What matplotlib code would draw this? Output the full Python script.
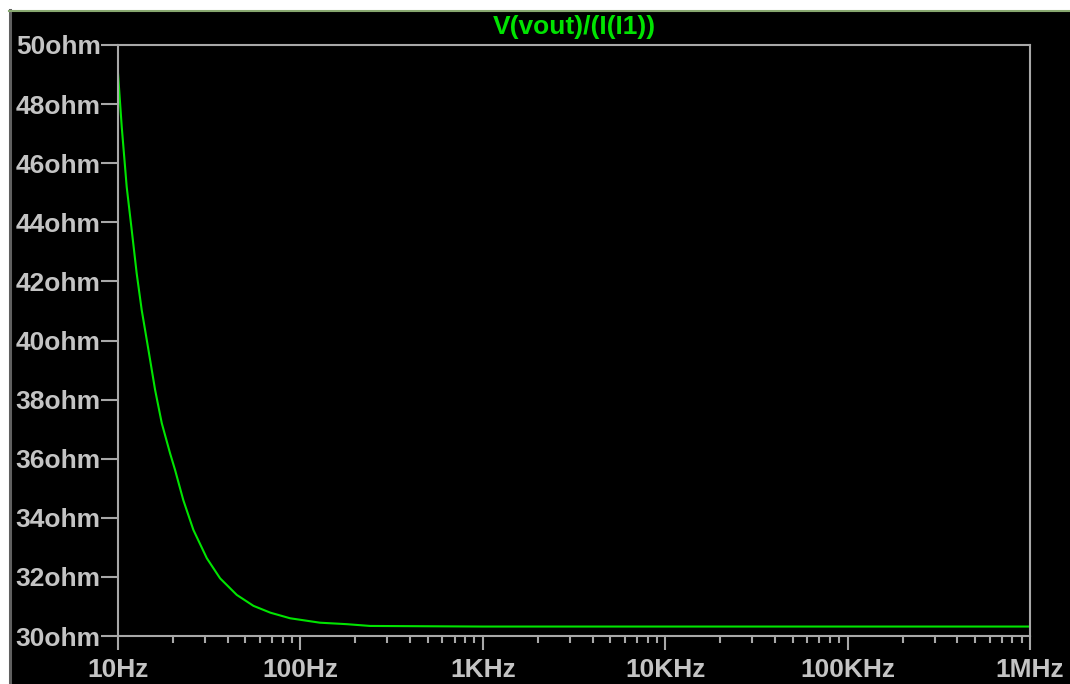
import matplotlib
matplotlib.use("Agg")
import matplotlib.pyplot as plt
from matplotlib.lines import Line2D
from matplotlib.patches import Rectangle
from matplotlib.ticker import FixedLocator, LogLocator, NullFormatter

# values
freq_hz = [10, 10.48, 11.16, 11.89, 12.66, 13.49, 14.67, 15.97, 17.38, 19.3,
           20.55, 22.8, 25.9, 30.7, 36.3, 44.8, 55.3, 68.4, 87.8, 128, 180,
           241, 1000, 1e6]
z_ohm = [49.05, 47.24, 45.20, 43.74, 42.27, 41.03, 39.7, 38.33, 37.20, 36.18,
         35.62, 34.60, 33.59, 32.63, 31.95, 31.39, 31.02, 30.79, 30.60, 30.45,
         30.40, 30.34, 30.32, 30.32]

x_ticks = [10, 100, 1e3, 1e4, 1e5, 1e6]
x_labels = ["10Hz", "100Hz", "1KHz", "10KHz", "100KHz", "1MHz"]
y_ticks = list(range(30, 51, 2))
y_labels = [f"{v}ohm" for v in y_ticks]
title = "V(vout)/(I(I1))"

W, H = 1070, 684
fig = plt.figure(figsize=(W / 100, H / 100), dpi=100, facecolor="white")

# black plot window with its frame edges
fig.patches.append(Rectangle((9 / W, 0), 1, 1 - 10 / H, transform=fig.transFigure,
                             facecolor="black", edgecolor="none", zorder=-2))
fig.lines.append(Line2D([9.5 / W, 9.5 / W], [0, 1 - 10 / H], transform=fig.transFigure,
                        color="#606060", lw=2.2))
fig.lines.append(Line2D([9 / W, 1], [1 - 10.5 / H, 1 - 10.5 / H], transform=fig.transFigure,
                        color="#88a870", lw=1.5))

ax = fig.add_axes([118 / W, 1 - 636 / H, (1030 - 118) / W, (636 - 45) / H])
ax.set_facecolor("black")
ax.plot(freq_hz, z_ohm, color="#00e400", lw=1.5)

ax.set_xscale("log")
ax.set_xlim(10, 1e6)
ax.set_ylim(30, 50)

gray = "#a8a8a8"
for s in ax.spines.values():
    s.set_color(gray)
    s.set_linewidth(1.5)

font = dict(family=["Liberation Sans", "DejaVu Sans"], weight="bold", size=19)

ax.xaxis.set_major_locator(FixedLocator(x_ticks))
ax.set_xticklabels(x_labels, color="#c4c4c4", **font)
ax.xaxis.set_minor_locator(LogLocator(base=10, subs=range(2, 10)))
ax.xaxis.set_minor_formatter(NullFormatter())
ax.set_yticks(y_ticks)
ax.set_yticklabels(y_labels, color="#c4c4c4", **font)

ax.tick_params(axis="x", which="major", direction="out", length=10, width=1.5,
               color=gray, pad=6)
ax.tick_params(axis="x", which="minor", direction="out", length=5, width=1.5,
               color=gray)
ax.tick_params(axis="y", which="major", direction="out", length=12, width=1.5,
               color=gray, pad=0.5)

fig.text((118 + 1030) / 2 / W, 1 - 27 / H, title, color="#00e400",
         ha="center", va="center", **font)

fig.savefig("out.png", dpi=100, facecolor="white")
